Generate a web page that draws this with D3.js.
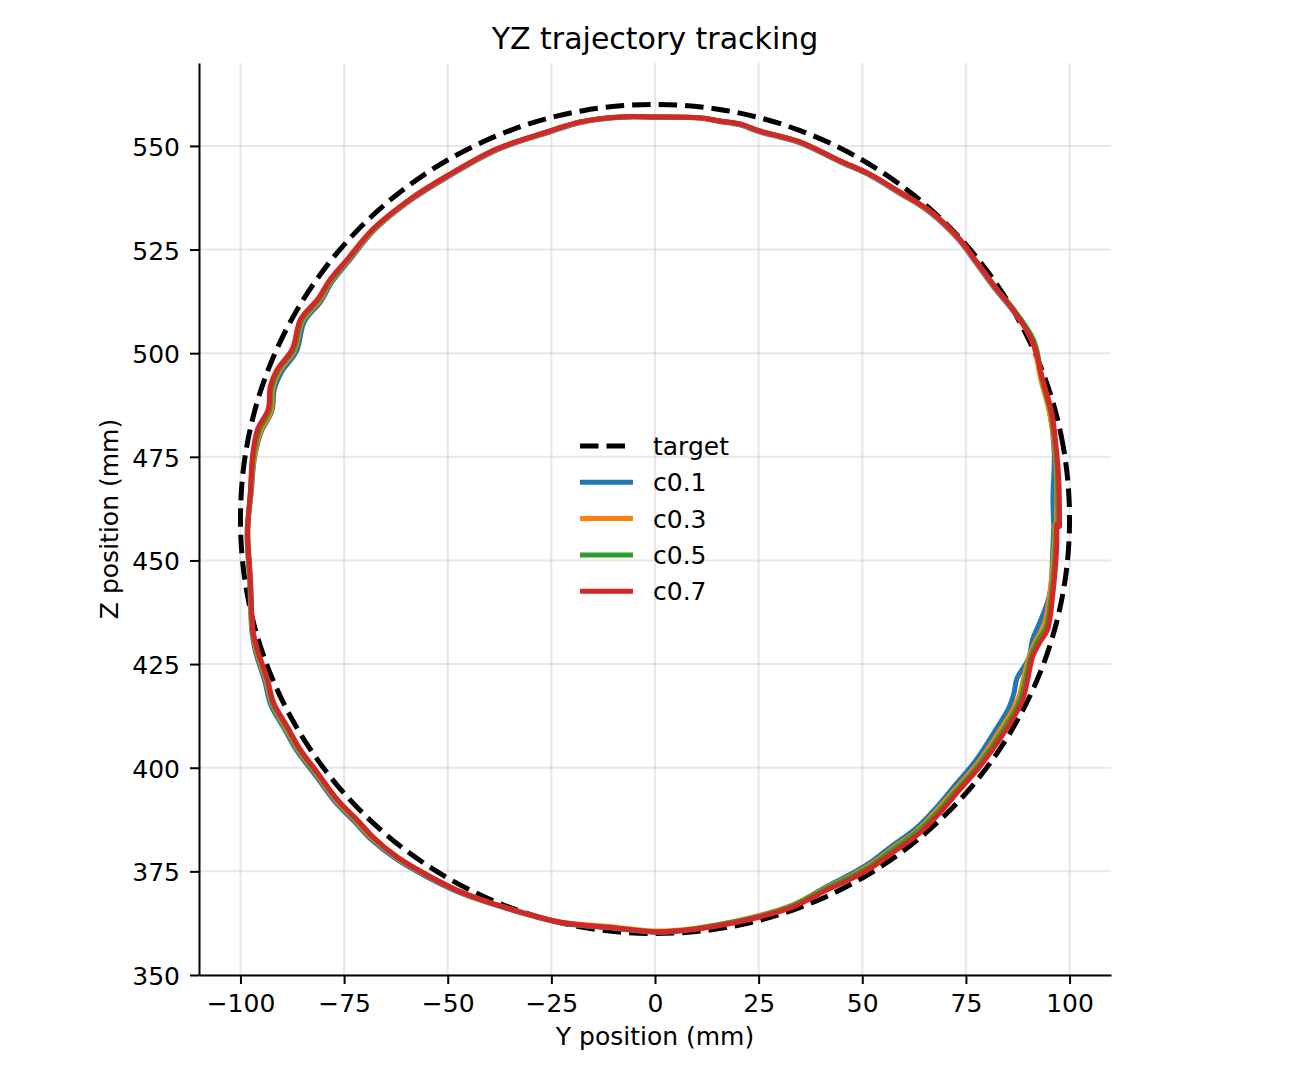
<!DOCTYPE html>
<html>
<head>
<meta charset="utf-8">
<script src="https://cdn.jsdelivr.net/npm/d3@7"></script>
<style>
  body { margin: 0; background: #fff; }
  text { font-family: "DejaVu Sans", sans-serif; fill: #000; }
</style>
</head>
<body>
<svg width="1296" height="1080"></svg>
<script>
// target circle, sampled every 10 degrees
const targetY = [100, 98.5, 94.0, 86.6, 76.6, 64.3, 50, 34.2, 17.4, 0, -17.4, -34.2, -50, -64.3, -76.6, -86.6, -94.0, -98.5,
                 -100, -98.5, -94.0, -86.6, -76.6, -64.3, -50, -34.2, -17.4, 0, 17.4, 34.2, 50, 64.3, 76.6, 86.6, 94.0, 98.5];
const targetZ = [460, 477.4, 494.2, 510, 524.3, 536.6, 546.6, 554, 558.5, 560, 558.5, 554, 546.6, 536.6, 524.3, 510, 494.2, 477.4,
                 460, 442.6, 425.8, 410, 395.7, 383.4, 373.4, 366, 361.5, 360, 361.5, 366, 373.4, 383.4, 395.7, 410, 425.8, 442.6];

const seriesNames = ['c0.1', 'c0.3', 'c0.5', 'c0.7'];

// measured [Y, Z] positions (mm)
const c01 = [[96.2,458.2],[96.0,465.0],[96.3,476.1],[95.3,485.5],[93.3,493.5],[91.3,502.9],[86.2,510.4],[82.2,515.3],[76.4,523.2],[73.3,527.3],[66.1,534.1],[58.8,538.7],[51.7,543.0],[44.5,546.2],[34.8,550.8],[25.2,553.4],[20.4,555.1],[15.6,555.9],[10.7,556.7],[0.0,556.9],[-8.4,556.9],[-18.1,555.6],[-25.2,553.4],[-38.0,549.1],[-49.9,542.6],[-58.8,537.0],[-67.7,529.7],[-73.8,522.3],[-77.8,517.4],[-80.7,512.4],[-84.6,507.6],[-86.5,500.4],[-90.0,495.6],[-91.8,491.4],[-92.4,486.1],[-95.0,481.0],[-96.6,474.8],[-97.4,466.4],[-98.4,456.8],[-97.8,445.4],[-97.2,432.4],[-96.4,428.1],[-94.1,420.8],[-92.7,415.2],[-89.4,409.4],[-86.2,403.8],[-82.0,398.3],[-77.2,391.8],[-72.5,387.0],[-68.6,382.8],[-62.6,378.1],[-54.5,373.4],[-46.5,369.6],[-38.2,366.8],[-30.1,364.4],[-22.2,362.5],[-10.1,361.3],[0.5,360.3],[8.4,360.9],[16.4,362.2],[25.2,364.3],[33.1,366.8],[41.0,371.1],[47.2,374.3],[51.9,377.1],[56.6,380.7],[63.1,385.5],[67.8,390.3],[72.5,395.9],[77.2,401.5],[81.6,408.2],[85.4,414.5],[86.6,418.0],[87.3,421.5],[90.2,426.5],[91.1,431.0],[92.8,435.0],[95.2,441.8],[96.0,453.5],[96.2,458.6]];
const c03 = [[96.8,458.2],[96.9,469.6],[96.5,476.1],[95.2,485.5],[93.1,493.5],[91.0,502.8],[86.3,510.5],[82.3,515.4],[76.5,523.3],[73.4,527.4],[66.2,534.2],[58.9,538.8],[51.8,543.1],[44.6,546.3],[34.9,550.9],[25.3,553.5],[20.5,555.2],[15.7,556.0],[10.8,556.8],[0.0,557.0],[-8.4,557.0],[-18.1,555.7],[-25.3,553.5],[-38.1,549.2],[-50.0,542.7],[-58.9,537.1],[-67.8,529.8],[-74.0,522.5],[-78.0,517.6],[-81.0,512.6],[-85.0,507.8],[-87.0,500.6],[-90.5,495.8],[-92.2,491.6],[-92.6,486.1],[-95.2,481.0],[-96.7,474.8],[-97.5,466.4],[-98.3,456.8],[-97.7,445.4],[-97.1,432.5],[-96.2,428.3],[-93.8,421.0],[-92.4,415.4],[-89.1,409.6],[-85.9,404.0],[-81.7,398.5],[-76.9,392.0],[-72.2,387.2],[-68.3,383.0],[-62.4,378.3],[-54.3,373.6],[-46.4,369.7],[-38.1,366.9],[-30.1,364.5],[-22.2,362.7],[-10.1,361.6],[0.5,360.6],[8.4,361.1],[16.4,362.4],[25.3,364.4],[33.2,366.9],[41.2,371.0],[47.4,374.0],[52.2,376.8],[56.9,380.3],[63.4,385.0],[68.1,389.9],[72.9,395.4],[77.7,400.9],[82.3,407.6],[86.3,414.0],[87.9,417.4],[89.0,422.0],[90.4,427.2],[91.9,430.8],[93.8,434.2],[95.2,441.6],[96.3,453.4],[96.5,458.6]];
const c05 = [[97.2,458.2],[97.1,469.6],[96.7,476.1],[95.5,485.6],[93.4,493.6],[91.4,503.0],[86.4,510.7],[82.4,515.5],[76.6,523.4],[73.5,527.5],[66.3,534.3],[59.0,538.9],[51.8,543.2],[44.6,546.4],[34.9,551.0],[25.3,553.6],[20.5,555.3],[15.7,556.0],[10.8,556.8],[0.0,557.0],[-8.4,557.0],[-18.1,555.8],[-25.3,553.6],[-38.1,549.3],[-50.1,542.8],[-59.0,537.2],[-67.9,529.9],[-74.1,522.6],[-78.1,517.7],[-81.2,512.8],[-85.2,508.0],[-87.2,500.8],[-90.8,496.0],[-92.5,491.8],[-93.0,486.3],[-95.5,481.3],[-96.9,475.0],[-97.6,466.4],[-98.2,456.8],[-97.6,445.4],[-97.0,432.6],[-96.0,428.4],[-93.6,421.2],[-92.2,415.5],[-88.9,409.8],[-85.7,404.2],[-81.6,398.7],[-76.7,392.2],[-72.0,387.3],[-68.1,383.2],[-62.3,378.4],[-54.2,373.7],[-46.3,369.8],[-38.1,366.9],[-30.1,364.5],[-22.2,362.6],[-10.1,361.4],[0.5,360.4],[8.4,361.0],[16.4,362.3],[25.3,364.2],[33.2,366.7],[41.2,370.8],[47.5,373.8],[52.3,376.5],[57.0,380.0],[63.6,384.8],[68.4,389.6],[73.2,395.1],[78.0,400.6],[82.7,407.2],[86.8,413.7],[88.3,417.0],[89.5,421.8],[90.7,427.0],[92.3,430.6],[94.3,433.8],[95.6,441.5],[96.6,453.4],[96.8,458.6]];
const c07 = [[97.6,458.2],[97.4,469.6],[96.9,476.1],[95.7,485.7],[93.5,493.7],[91.1,502.7],[86.3,510.6],[82.4,515.5],[76.6,523.4],[73.5,527.5],[66.3,534.3],[59.0,538.9],[51.8,543.2],[44.6,546.4],[34.9,551.0],[25.3,553.6],[20.5,555.3],[15.7,556.0],[10.8,556.8],[0.0,557.0],[-8.4,557.0],[-18.1,555.8],[-25.3,553.6],[-38.1,549.3],[-50.1,542.8],[-59.0,537.2],[-68.0,530.0],[-74.2,522.7],[-78.3,517.9],[-81.4,513.0],[-85.5,508.2],[-87.5,501.0],[-91.1,496.1],[-92.8,492.0],[-93.3,486.5],[-95.9,481.6],[-97.1,475.1],[-97.6,466.4],[-98.3,456.8],[-97.6,445.4],[-96.9,432.6],[-95.9,428.5],[-93.5,421.3],[-92.0,415.7],[-88.7,409.9],[-85.5,404.3],[-81.4,398.8],[-76.6,392.3],[-71.8,387.4],[-68.0,383.3],[-62.2,378.5],[-54.2,373.7],[-46.3,369.8],[-38.1,366.9],[-30.1,364.5],[-22.2,362.6],[-10.1,361.4],[0.5,360.4],[8.4,360.9],[16.4,362.1],[25.3,364.0],[33.3,366.4],[41.4,370.5],[47.7,373.4],[52.5,376.1],[57.3,379.5],[63.9,384.3],[68.7,389.1],[73.5,394.7],[78.3,400.2],[83.1,406.8],[87.2,413.3],[88.7,416.4],[89.9,421.3],[91.1,426.8],[92.8,430.2],[94.7,433.3],[95.9,441.3],[96.9,453.4],[96.9,458.6]];

const xTicks = [-100, -75, -50, -25, 0, 25, 50, 75, 100];
const yTicks = [350, 375, 400, 425, 450, 475, 500, 525, 550];

const svg = d3.select('svg');
const width = Number(svg.attr('width')), height = Number(svg.attr('height'));
const colors = ['#1f77b4', '#ff7f0e', '#2ca02c', '#d62728'];

const render = () => {
    const margin = { left: 199, right: 185, top: 63, bottom: 105 };
    const innerWidth = width - (margin.left + margin.right);
    const innerHeight = height - (margin.top + margin.bottom);

    const xScale = d3.scaleLinear().domain([-110, 110]).range([0, innerWidth]);
    const yScale = d3.scaleLinear().domain([350, 570]).range([innerHeight, 0]);
    const fmt = d => d < 0 ? '\u2212' + Math.abs(d) : String(d);

    svg.append('rect').attr('width', width).attr('height', height).attr('fill', '#fff');

    const g = svg.append('g')
        .attr('transform', `translate(${margin.left},${margin.top})`);

    // grid
    g.append('g').selectAll('line').data(xTicks).enter().append('line')
        .attr('x1', d => xScale(d)).attr('x2', d => xScale(d))
        .attr('y1', 0).attr('y2', innerHeight)
        .attr('stroke', '#b0b0b0').attr('stroke-opacity', 0.3).attr('stroke-width', 2);
    g.append('g').selectAll('line').data(yTicks).enter().append('line')
        .attr('y1', d => yScale(d)).attr('y2', d => yScale(d))
        .attr('x1', 0).attr('x2', innerWidth)
        .attr('stroke', '#b0b0b0').attr('stroke-opacity', 0.3).attr('stroke-width', 2);

    // target
    const target = targetY.map((y, i) => [y, targetZ[i]]);
    const line = d3.line().x(d => xScale(d[0])).y(d => yScale(d[1]));
    g.append('path')
        .attr('d', line.curve(d3.curveCatmullRomClosed)(target))
        .attr('fill', 'none').attr('stroke', '#000').attr('stroke-width', 5)
        .attr('stroke-dasharray', '18.5 8');

    // tracked paths
    const series = [c01, c03, c05, c07];
    const pline = d3.line().x(d => xScale(d[0])).y(d => yScale(d[1]))
        .curve(d3.curveCatmullRom.alpha(0.5));
    series.forEach((s, i) => {
        g.append('path')
            .attr('d', pline(s))
            .attr('fill', 'none').attr('stroke', colors[i]).attr('stroke-width', 5)
            .attr('stroke-linejoin', 'round').attr('stroke-linecap', 'round');
    });

    // axes
    const xAxis = g.append('g').attr('transform', `translate(0,${innerHeight})`)
        .call(d3.axisBottom(xScale).tickValues(xTicks).tickFormat(fmt).tickSize(9).tickSizeOuter(0).tickPadding(10));
    const yAxis = g.append('g')
        .call(d3.axisLeft(yScale).tickValues(yTicks).tickSize(9).tickSizeOuter(0).tickPadding(10));
    [xAxis, yAxis].forEach(a => {
        a.selectAll('text').attr('font-size', 25).attr('font-family', '"DejaVu Sans", sans-serif');
        a.selectAll('line').attr('stroke-width', 2);
        a.select('.domain').attr('stroke-width', 2);
    });
    yAxis.selectAll('text').attr('dy', '0.38em');

    // labels
    svg.append('text').attr('x', margin.left + innerWidth / 2).attr('y', 49)
        .attr('text-anchor', 'middle').attr('font-size', 30).text('YZ trajectory tracking');
    svg.append('text').attr('x', margin.left + innerWidth / 2).attr('y', 1045)
        .attr('text-anchor', 'middle').attr('font-size', 25).text('Y position (mm)');
    svg.append('text')
        .attr('transform', `translate(118,${margin.top + innerHeight / 2}) rotate(-90)`)
        .attr('text-anchor', 'middle').attr('font-size', 25).text('Z position (mm)');

    // legend
    const legendItems = ['target'].concat(seriesNames);
    const lg = svg.append('g').attr('transform', 'translate(580,446)');
    legendItems.forEach((name, i) => {
        const row = lg.append('g').attr('transform', `translate(0,${i * 36.3})`);
        const l = row.append('line').attr('x1', 0).attr('x2', 53).attr('y1', 0).attr('y2', 0)
            .attr('stroke-width', 5);
        if (i === 0) l.attr('stroke', '#000').attr('stroke-dasharray', '18.5 8');
        else l.attr('stroke', colors[i - 1]);
        row.append('text').attr('x', 73).attr('y', 9).attr('font-size', 25).text(name);
    });
};

render();
</script>
</body>
</html>
